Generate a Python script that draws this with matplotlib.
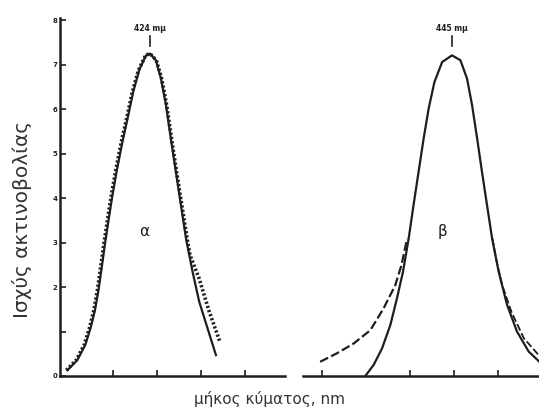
import matplotlib
matplotlib.use('Agg')
from matplotlib import pyplot as plt
import numpy as np

# panel alpha (peak 424 mu)
a_solid_x = [386.5, 391.0, 394.6, 397.0, 399.0, 400.6, 402.1, 403.6, 405.0, 406.7,
             408.8, 411.5, 413.8, 416.4, 419.1, 422.2, 424.0, 426.7, 429.0, 431.3,
             433.5, 435.8, 438.1, 440.4, 443.4, 446.4, 450.2, 454.0]
a_solid_y = [0.13, 0.36, 0.70, 1.08, 1.48, 1.93, 2.45, 2.99, 3.45, 3.99,
             4.59, 5.27, 5.79, 6.39, 6.88, 7.21, 7.25, 7.10, 6.69, 6.09,
             5.34, 4.59, 3.84, 3.09, 2.34, 1.67, 1.07, 0.47]
a_meas_x = [386.0, 390.5, 394.1, 396.5, 398.5, 400.1, 401.6, 403.1, 404.5, 406.2,
            408.3, 411.0, 413.4, 416.0, 418.8, 422.0, 424.0, 426.9, 429.3, 431.6,
            433.8, 436.1, 438.5, 440.9, 442.2, 446.3, 451.0, 455.8]
a_meas_y = [0.13, 0.36, 0.70, 1.08, 1.48, 1.93, 2.45, 2.99, 3.45, 3.99,
            4.59, 5.27, 5.79, 6.39, 6.88, 7.21, 7.25, 7.10, 6.69, 6.09,
            5.34, 4.59, 3.84, 3.09, 2.72, 2.20, 1.44, 0.77]

# panel beta (peak 445 mu)
b_solid_x = [405.6, 409.4, 413.2, 417.0, 420.0, 422.7, 425.3, 427.5, 429.8, 432.1,
             434.4, 437.0, 440.5, 445.0, 448.8, 451.8, 454.1, 456.4, 458.6, 460.9,
             463.2, 466.2, 470.0, 474.5, 479.8, 484.7]
b_solid_y = [0.00, 0.25, 0.62, 1.15, 1.75, 2.34, 3.09, 3.84, 4.59, 5.34,
             6.02, 6.61, 7.06, 7.21, 7.10, 6.69, 6.09, 5.34, 4.59, 3.84,
             3.09, 2.34, 1.60, 1.00, 0.55, 0.32]
b_meas_left_x = [385.1, 392.7, 400.3, 407.9, 413.9, 419.2, 422.0, 424.6]
b_meas_left_y = [0.32, 0.51, 0.73, 1.03, 1.52, 2.04, 2.49, 3.09]
b_meas_right_x = [463.4, 465.0, 467.8, 472.0, 477.6, 484.7]
b_meas_right_y = [3.09, 2.64, 2.04, 1.44, 0.85, 0.45]

peaks = [424, 445]
peak_labels = ['424 mμ', '445 mμ']
panel_labels = ['α', 'β']
panel_label_x = [421.4, 440.5]
yticks = [0, 1, 2, 3, 4, 5, 6, 7, 8]
yticklabels = ['0', '', '2', '3', '4', '5', '6', '7', '8']
a_xticks = [407, 427, 447, 467]
b_xticks = [386, 426, 446, 466]

INK = '#1e1e1e'


def style_axes(ax, xticks):
    ax.spines['top'].set_visible(False)
    ax.spines['right'].set_visible(False)
    ax.spines['bottom'].set_linewidth(1.8)
    ax.spines['bottom'].set_color(INK)
    ax.set_xticks(xticks)
    ax.set_xticklabels([])
    ax.tick_params(axis='x', direction='in', length=4, width=1.2, color=INK)
    ax.set_ylim(0, 8.05)


def mark_peak(ax, peak, plabel, glabel, gx):
    ax.plot([peak, peak], [7.42, 7.65], color=INK, lw=1.2)
    ax.text(peak, 7.72, plabel, ha='center', va='bottom', fontsize=5.5,
            fontweight='bold', color=INK)
    ax.text(gx, 3.24, glabel, ha='center', va='center', fontsize=11, color=INK)


def main():
    fig = plt.figure(figsize=(5.39, 4.12), dpi=100)

    ax1 = fig.add_axes([60 / 539, 36 / 412, 225 / 539, 358 / 412])
    ax2 = fig.add_axes([303 / 539, 36 / 412, 236 / 539, 358 / 412])

    style_axes(ax1, a_xticks)
    ax1.set_xlim(383.1, 485.4)
    ax1.spines['left'].set_linewidth(1.8)
    ax1.spines['left'].set_color(INK)
    ax1.set_yticks(yticks)
    ax1.set_yticklabels(yticklabels, fontsize=5, fontweight='bold', color=INK)
    ax1.tick_params(axis='y', direction='in', length=4, width=1.2, color=INK, pad=2)

    style_axes(ax2, b_xticks)
    ax2.set_xlim(377.3, 484.5)
    ax2.spines['left'].set_visible(False)
    ax2.set_yticks([])

    # alpha: solid + densely dotted measured curve
    ax1.plot(a_solid_x, a_solid_y, color=INK, lw=1.6, solid_joinstyle='round')
    ax1.plot(a_meas_x, a_meas_y, color=INK, lw=2.6, linestyle=(0, (0.6, 0.6)))
    mark_peak(ax1, peaks[0], peak_labels[0], panel_labels[0], panel_label_x[0])

    # beta: solid + dashed tails
    ax2.plot(b_solid_x, b_solid_y, color=INK, lw=1.6, solid_joinstyle='round')
    ax2.plot(b_meas_left_x, b_meas_left_y, color=INK, lw=1.6, linestyle=(0, (4, 1.5)))
    ax2.plot(b_meas_right_x, b_meas_right_y, color=INK, lw=1.3, linestyle=(0, (4, 1.5)))
    mark_peak(ax2, peaks[1], peak_labels[1], panel_labels[1], panel_label_x[1])

    fig.text(22 / 539, 1 - 219 / 412, 'Ισχύς ακτινοβολίας', rotation=90,
             ha='center', va='center', fontsize=14.5, color='#333333')
    fig.text(270 / 539, 1 - 399 / 412, 'μήκος κύματος, nm',
             ha='center', va='center', fontsize=11, color='#333333')

    fig.savefig('out.png', dpi=100)


if __name__ == '__main__':
    main()
